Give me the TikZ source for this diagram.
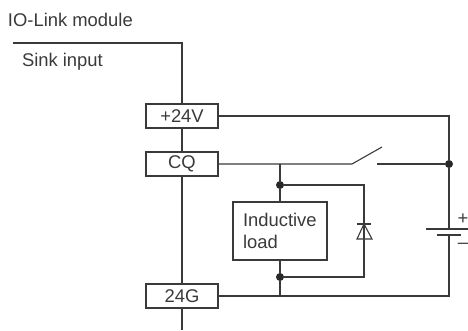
\documentclass[tikz,border=0pt]{standalone}
\usepackage{fontspec}
\setmainfont{Liberation Sans}
\usetikzlibrary{positioning,calc}
\definecolor{ink}{HTML}{3A3A3A}

\begin{document}
\begin{tikzpicture}[
  x=1pt,y=-1pt,
  every node/.style={inner sep=0pt,outer sep=0pt,align=left,text=ink,font=\fontsize{18.4}{22}\selectfont},%
  w/.style={draw=ink,line width=1.1pt},%
  pl/.style={draw=ink,line width=1.1pt},%
  t/.style={draw=ink,line width=1.1pt,fill=white,minimum width=72pt,minimum height=24pt,align=center},%
  j/.style={circle,fill=ink!70!black,minimum size=8pt},%
  l/.style={anchor=west},%
  lo/.style={draw=ink,line width=1.1pt,fill=white,minimum width=94pt,minimum height=58pt,text width=74pt},%
  ]
  \useasboundingbox (0,0) rectangle (468,331);
  \node (mod) [l] at (8,20) {IO-Link module};
  \node (snk) [l] at (22,62) {Sink input};
  \coordinate (tl) at (13,43);
  \coordinate (tr) at (182,43);
  \coordinate (bt) at (182,330);
  \node (p24) [t] at (182,116) {+24V};
  \node (cq) [t,below=24pt of p24] {CQ};
  \node (g24) [t,below=108pt of cq] {24G};
  \node (load) [lo] at (280,231) {Inductive\\load};
  \node (jq) [j] at (449,164) {};
  \node (ja) [j] at (280,185) {};
  \node (jb) [j] at (280,277) {};
  \node (pls) [anchor=center] at (463,219) {+};
  \node (mns) [anchor=center] at (463,246) {--};
  % rails
  \coordinate (ca) at (449,116);
  \coordinate (cg) at (449,296);
  \coordinate (b1) at (449,229);
  \coordinate (b2) at (449,235);
  \coordinate (ba) at (280,164);
  \coordinate (bb) at (280,296);
  \coordinate (da) at (364,185);
  \coordinate (db) at (364,277);
  \coordinate (s1) at (352,164);
  \coordinate (s2) at (382,147);
  \coordinate (s3) at (377,164);
  \draw [w] (tl) -- (tr) -- (p24) -- (cq) -- (g24) -- (bt);
  \draw [w] (p24) -- (ca) -- (jq) -- (b1);
  \draw [w] (b2) -- (cg) -- (g24);
  \draw [w] (cq) -- (s1) -- (s2);
  \draw [w] (s3) -- (jq);
  \draw [w] (ba) -- (ja) -- (load) -- (jb) -- (bb);
  \draw [w] (ja) -- (da) -- (db) -- (jb);
  % diode
  \draw [pl] (357,224) -- (371,224);
  \draw [pl,fill=white] (364,224) -- (357,239) -- (372,239) -- cycle;
  \draw [w] (364,224) -- (364,239);
  % battery
  \draw [pl] (426,229) -- (468,229);
  \draw [pl] (437,235) -- (461,235);
\end{tikzpicture}
\end{document}
